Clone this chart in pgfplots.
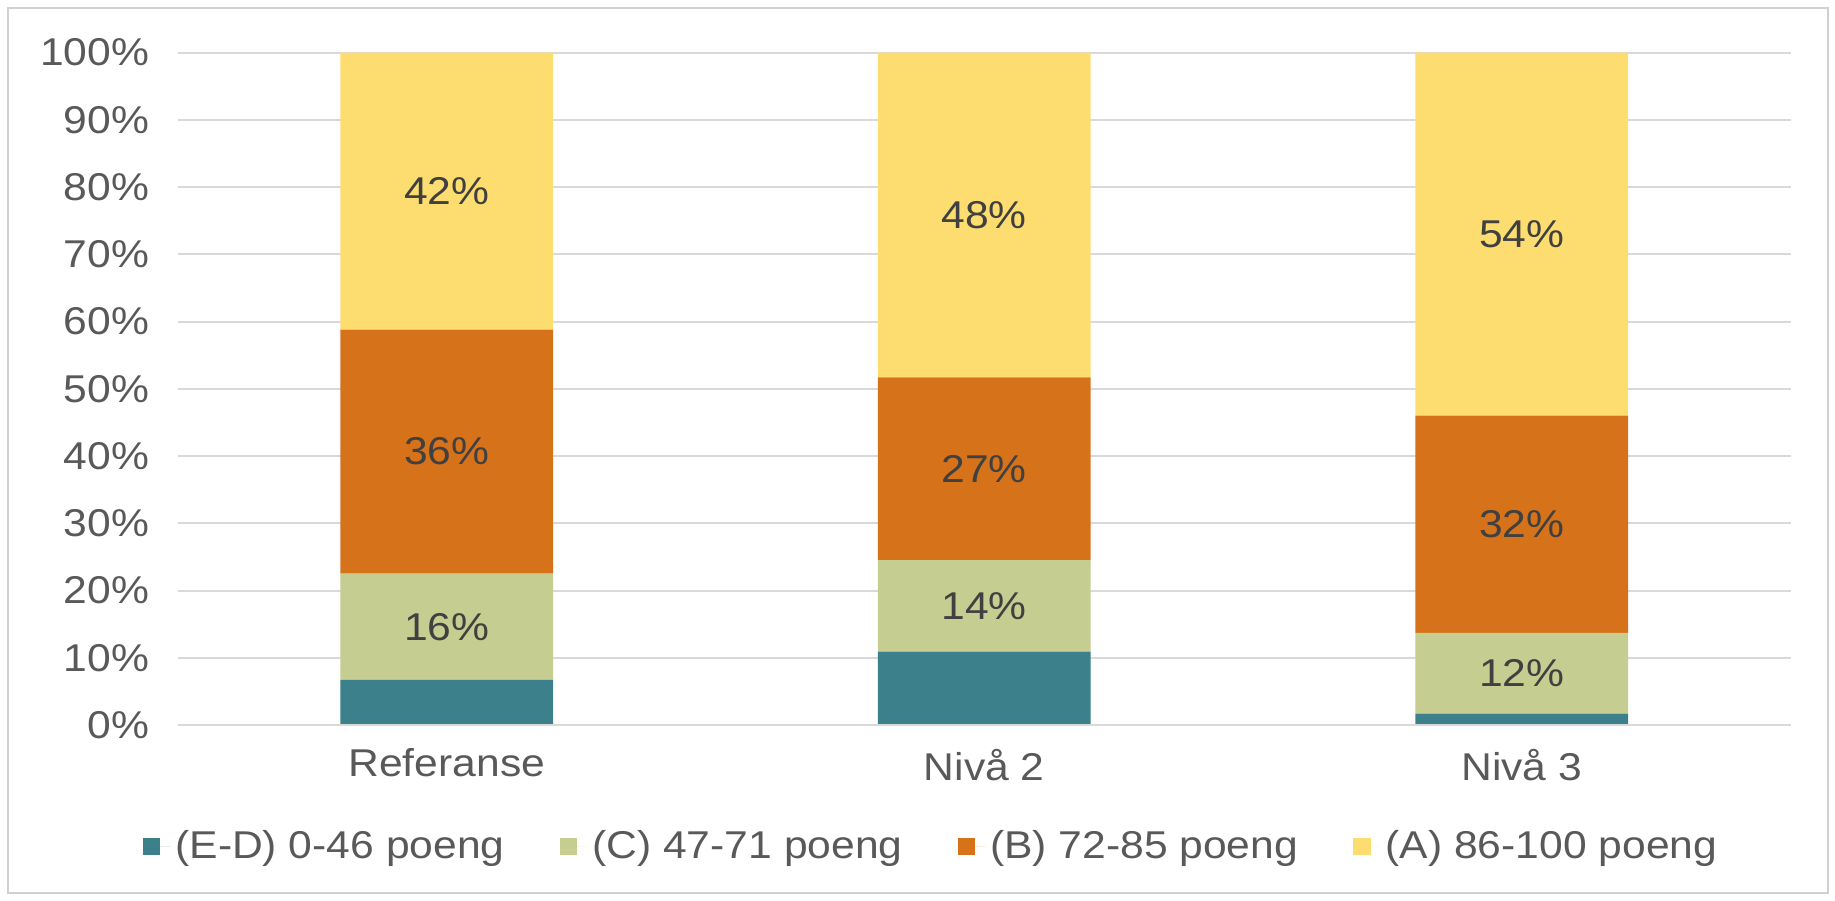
\documentclass[border=0pt]{standalone}
\usepackage{pgfplots}
\pgfplotsset{compat=1.18}
\usepackage{pgfplotstable}
\usepackage{fontspec}
\setmainfont{Liberation Sans}[FakeStretch=1.1]

\definecolor{cED}{HTML}{3B808A}
\definecolor{cC}{HTML}{C6CD90}
\definecolor{cB}{HTML}{D6721A}
\definecolor{cA}{HTML}{FDDD70}
\definecolor{gridgray}{HTML}{D9D9D9}
\definecolor{tickgray}{HTML}{595959}
\definecolor{labelgray}{HTML}{404040}
\definecolor{framegray}{HTML}{D0D0D0}

% share of pupils per grade band, in percent
\pgfplotstableread{
x ED   C    B    A    lC lB lA
0 6.7  15.8 36.3 41.2 16 36 42
1 10.9 13.6 27.2 48.3 14 27 48
2 1.7  12.0 32.3 54.0 12 32 54
}\grades

\newcommand{\chartfont}{\fontsize{15.5}{18}\selectfont}

\begin{document}
\begin{tikzpicture}
\useasboundingbox (0,0) rectangle (734pt,360pt);
\begin{axis}[
    at={(71.2pt,70pt)}, anchor=south west,
    scale only axis, width=645pt, height=269pt,
    ybar stacked, bar width=0.396,
    xmin=-0.5, xmax=2.5, ymin=0, ymax=100,
    xtick=data, xticklabels={Referanse, Nivå 2, Nivå 3},
    ytick={0,10,20,30,40,50,60,70,80,90,100},
    yticklabels={0\%,10\%,20\%,30\%,40\%,50\%,60\%,70\%,80\%,90\%,100\%},
    ymajorgrids, grid style={draw=gridgray, line width=0.8pt},
    axis line style={draw=none}, major tick length=0pt,
    tick label style={font=\chartfont, text=tickgray},
    yticklabel style={xshift=-8pt},
    xticklabel style={yshift=-6pt},
    nodes near coords align={anchor=center},
    every node near coord/.append style={font=\chartfont, text=labelgray},
    legend style={at={(0.468,-0.181)}, anchor=center, draw=none,
        font=\chartfont, text=tickgray, legend columns=4,
        /tikz/every even column/.append style={column sep=20pt}},
    legend image code/.code={\fill[#1] (0pt,-3.5pt) rectangle (7pt,3.5pt);
        \path (0pt,0pt) -- (11pt,0pt);},
]
\draw[gridgray, line width=0.8pt] (axis cs:-0.5,0) -- (axis cs:2.5,0);
\addplot[fill=cED, draw=none] table[x=x, y=ED] {\grades};
\addplot[fill=cC, draw=none, point meta=explicit symbolic,
    nodes near coords={\pgfplotspointmeta\%}]
    table[x=x, y=C, meta=lC] {\grades};
\addplot[fill=cB, draw=none, point meta=explicit symbolic,
    nodes near coords={\pgfplotspointmeta\%}]
    table[x=x, y=B, meta=lB] {\grades};
\addplot[fill=cA, draw=none, point meta=explicit symbolic,
    nodes near coords={\pgfplotspointmeta\%}]
    table[x=x, y=A, meta=lA] {\grades};
\legend{(E-D) 0-46 poeng, (C) 47-71 poeng, (B) 72-85 poeng, (A) 86-100 poeng}
\end{axis}
\draw[framegray, line width=0.8pt] (3pt,3pt) rectangle (731pt,357pt);
\end{tikzpicture}
\end{document}
